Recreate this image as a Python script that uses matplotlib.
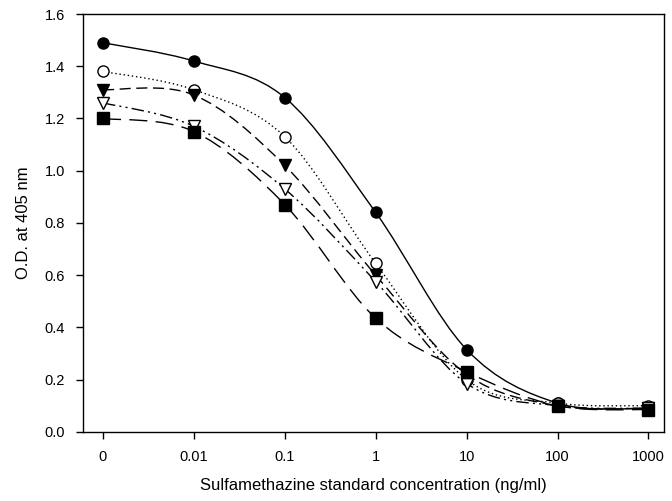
import numpy as np
import matplotlib
matplotlib.use("Agg")
import matplotlib.pyplot as plt
from matplotlib.path import Path
from matplotlib.patches import PathPatch

plt.rcParams['font.family'] = ['Liberation Sans', 'DejaVu Sans']

# data
conc_labels = ["0", "0.01", "0.1", "1", "10", "100", "1000"]
filled_circle = [1.49, 1.42, 1.28, 0.84, 0.315, 0.11, 0.09]
open_circle = [1.38, 1.31, 1.13, 0.645, 0.20, 0.11, 0.10]
filled_tri = [1.31, 1.29, 1.02, 0.60, 0.22, 0.10, 0.09]
open_tri = [1.26, 1.17, 0.93, 0.575, 0.185, 0.10, 0.09]
filled_sq = [1.20, 1.15, 0.87, 0.435, 0.23, 0.10, 0.085]


def smooth_path(x, y, t=0.5):
    # catmull-rom through the points, as cubic bezier segments
    x = np.asarray(x, float)
    y = np.asarray(y, float)
    pts = np.column_stack([x, y])
    n = len(pts)
    verts = [pts[0]]
    codes = [Path.MOVETO]
    for i in range(n - 1):
        p0 = pts[max(i - 1, 0)]
        p1 = pts[i]
        p2 = pts[i + 1]
        p3 = pts[min(i + 2, n - 1)]
        c1 = p1 + (p2 - p0) * t / 3
        c2 = p2 - (p3 - p1) * t / 3
        verts += [c1, c2, p2]
        codes += [Path.CURVE4] * 3
    return Path(verts, codes)


fig = plt.figure(figsize=(6.72, 5.01), dpi=100)
ax = fig.add_axes([0.1235, 0.138, 0.8645, 0.834])

xpos = np.arange(len(conc_labels))
series = [
    (filled_circle, 'o', 'k', '-'),
    (open_circle, 'o', 'white', (0, (1, 2))),
    (filled_tri, 'v', 'k', (0, (8, 4))),
    (open_tri, 'v', 'white', (0, (9, 3, 1.5, 3, 1.5, 3))),
    (filled_sq, 's', 'k', (0, (13, 6))),
]

for vals, mk, fc, ls in series:
    patch = PathPatch(smooth_path(xpos, vals), facecolor='none', edgecolor='k',
                      lw=1.0, linestyle=ls, zorder=2)
    ax.add_patch(patch)
    ax.plot(xpos, vals, linestyle='none', marker=mk, markersize=8,
            markerfacecolor=fc, markeredgecolor='k', markeredgewidth=1.0, zorder=3)

ax.set_xlim(-0.22, 6.17)
ax.set_ylim(0, 1.6)
ax.set_xticks(xpos)
ax.set_xticklabels(conc_labels)
ax.set_yticks(np.arange(0, 1.61, 0.2))
ax.set_yticklabels([f"{v:.1f}" for v in np.arange(0, 1.61, 0.2)])
ax.tick_params(direction='out', length=5, width=1, labelsize=10.5, pad=8)
for s in ax.spines.values():
    s.set_linewidth(1.0)

ax.set_xlabel("Sulfamethazine standard concentration (ng/ml)", fontsize=12, labelpad=10)
ax.set_ylabel("O.D. at 405 nm", fontsize=12, labelpad=10)

fig.savefig("out.png", dpi=100)
